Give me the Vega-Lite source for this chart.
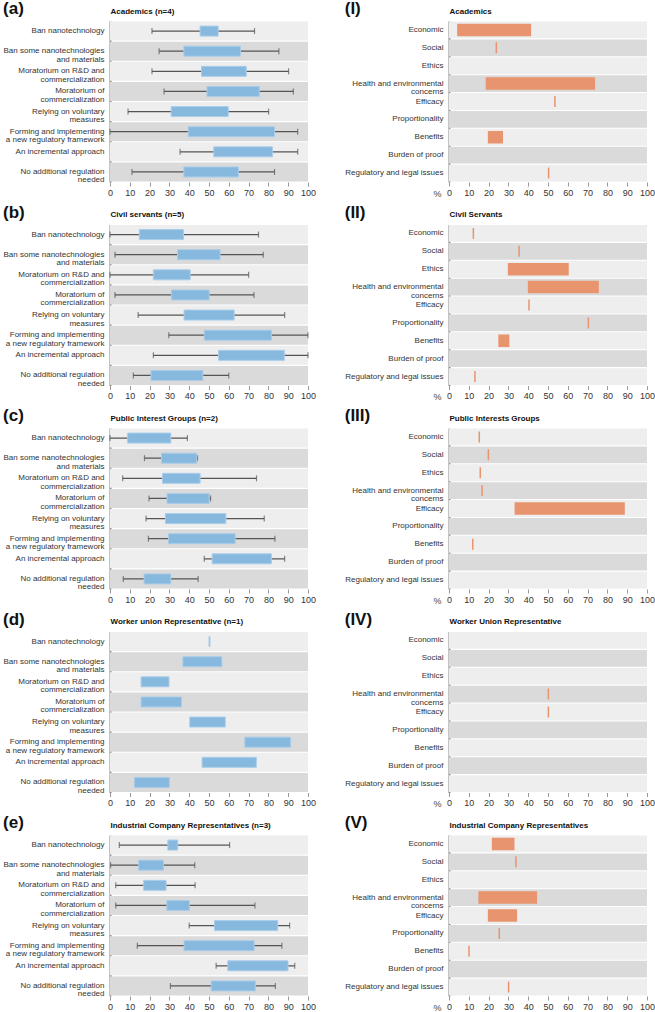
{
  "$schema": "https://vega.github.io/schema/vega-lite/v6.json",
  "background": "white",
  "padding": {"left": 3, "top": 0, "right": 0, "bottom": 0},
  "config": {
    "view": {"stroke": null},
    "font": "Liberation Sans",
    "concat": {"spacing": 5.5},
    "title": {"anchor": "start", "frame": "bounds", "fontSize": 17, "fontWeight": "bold", "color": "#111", "offset": -11, "font": "Liberation Sans"},
    "axisY": {"domainColor": "#888", "domainWidth": 2, "ticks": false, "labelFontSize": 8, "labelColor": "#333", "labelPadding": 6, "labelLineHeight": 8.5, "labelExpr": "split(datum.value, '\\n')", "titleAngle": 0, "titleAlign": "left", "titleBaseline": "middle", "titleX": 0, "titleY": -10, "titleFontSize": 8, "titleFontWeight": "bold", "titleColor": "#111", "labelFont": "Liberation Sans", "titleFont": "Liberation Sans"},
    "axisX": {"labelOverlap": false, "labelFlush": false, "domain": false, "grid": false, "tickColor": "#999", "tickSize": 4, "tickWidth": 1, "labelFontSize": 9, "labelColor": "#333", "labelPadding": 2, "titleFontSize": 9, "titleFontWeight": "normal", "titleColor": "#444", "labelFont": "Liberation Sans", "titleFont": "Liberation Sans"}
  },
  "datasets": {
    "box": [
      {"g": "a", "option": "Ban nanotechnology", "lo": 21.2, "q1": 45.5, "q3": 54.6, "hi": 73},
      {"g": "a", "option": "Ban some nanotechnologies\nand materials", "lo": 24.8, "q1": 37.3, "q3": 65.9, "hi": 85.3},
      {"g": "a", "option": "Moratorium on R&D and\ncommercialization", "lo": 21.2, "q1": 46.2, "q3": 68.8, "hi": 90.2},
      {"g": "a", "option": "Moratorium of\ncommercialization", "lo": 27.3, "q1": 49, "q3": 75.4, "hi": 92.6},
      {"g": "a", "option": "Relying on voluntary\nmeasures", "lo": 9.1, "q1": 30.9, "q3": 59.7, "hi": 80.1},
      {"g": "a", "option": "Forming and implementing\na new regulatory framework", "lo": 0, "q1": 39.5, "q3": 83.1, "hi": 94.8},
      {"g": "a", "option": "An incremental approach", "lo": 35.4, "q1": 52.4, "q3": 82, "hi": 94.8},
      {"g": "a", "option": "No additional regulation\nneeded", "lo": 11.1, "q1": 37.3, "q3": 64.8, "hi": 83.1},
      {"g": "b", "option": "Ban nanotechnology", "lo": 0, "q1": 14.8, "q3": 37.1, "hi": 75},
      {"g": "b", "option": "Ban some nanotechnologies\nand materials", "lo": 2.5, "q1": 34.1, "q3": 55.6, "hi": 77.4},
      {"g": "b", "option": "Moratorium on R&D and\ncommercialization", "lo": 0, "q1": 21.9, "q3": 40.5, "hi": 70},
      {"g": "b", "option": "Moratorium of\ncommercialization", "lo": 2.5, "q1": 31, "q3": 50.1, "hi": 72.7},
      {"g": "b", "option": "Relying on voluntary\nmeasures", "lo": 14.2, "q1": 37.4, "q3": 62.7, "hi": 88.2},
      {"g": "b", "option": "Forming and implementing\na new regulatory framework", "lo": 29.7, "q1": 47.6, "q3": 81.5, "hi": 100},
      {"g": "b", "option": "An incremental approach", "lo": 21.9, "q1": 54.8, "q3": 88, "hi": 100},
      {"g": "b", "option": "No additional regulation\nneeded", "lo": 11.8, "q1": 20.7, "q3": 46.9, "hi": 60},
      {"g": "c", "option": "Ban nanotechnology", "lo": 0, "q1": 8.9, "q3": 30.7, "hi": 39.1},
      {"g": "c", "option": "Ban some nanotechnologies\nand materials", "lo": 17.4, "q1": 26, "q3": 43.8, "hi": 44.2},
      {"g": "c", "option": "Moratorium on R&D and\ncommercialization", "lo": 6.4, "q1": 26.5, "q3": 45.5, "hi": 74},
      {"g": "c", "option": "Moratorium of\ncommercialization", "lo": 19.7, "q1": 28.8, "q3": 50.1, "hi": 50.8},
      {"g": "c", "option": "Relying on voluntary\nmeasures", "lo": 18.2, "q1": 28, "q3": 58.5, "hi": 77.9},
      {"g": "c", "option": "Forming and implementing\na new regulatory framework", "lo": 19.4, "q1": 29.5, "q3": 63.2, "hi": 83.3},
      {"g": "c", "option": "An incremental approach", "lo": 47.6, "q1": 51.6, "q3": 81.5, "hi": 88.2},
      {"g": "c", "option": "No additional regulation\nneeded", "lo": 6.7, "q1": 17.2, "q3": 30.7, "hi": 44.5},
      {"g": "d", "option": "Ban nanotechnology", "lo": null, "q1": 50, "q3": 50.5, "hi": null},
      {"g": "d", "option": "Ban some nanotechnologies\nand materials", "lo": null, "q1": 36.8, "q3": 56.5, "hi": null},
      {"g": "d", "option": "Moratorium on R&D and\ncommercialization", "lo": null, "q1": 15.7, "q3": 29.8, "hi": null},
      {"g": "d", "option": "Moratorium of\ncommercialization", "lo": null, "q1": 15.7, "q3": 36.1, "hi": null},
      {"g": "d", "option": "Relying on voluntary\nmeasures", "lo": null, "q1": 40.3, "q3": 58.2, "hi": null},
      {"g": "d", "option": "Forming and implementing\na new regulatory framework", "lo": null, "q1": 68.1, "q3": 91.2, "hi": null},
      {"g": "d", "option": "An incremental approach", "lo": null, "q1": 46.5, "q3": 73.9, "hi": null},
      {"g": "d", "option": "No additional regulation\nneeded", "lo": null, "q1": 12.3, "q3": 30, "hi": null},
      {"g": "e", "option": "Ban nanotechnology", "lo": 4.7, "q1": 29.2, "q3": 34.2, "hi": 60.4},
      {"g": "e", "option": "Ban some nanotechnologies\nand materials", "lo": 0.3, "q1": 14.5, "q3": 27, "hi": 42.8},
      {"g": "e", "option": "Moratorium on R&D and\ncommercialization", "lo": 2.9, "q1": 17, "q3": 28.3, "hi": 43},
      {"g": "e", "option": "Moratorium of\ncommercialization", "lo": 2.9, "q1": 28.7, "q3": 40.1, "hi": 73.2},
      {"g": "e", "option": "Relying on voluntary\nmeasures", "lo": 40, "q1": 52.8, "q3": 84.7, "hi": 90.7},
      {"g": "e", "option": "Forming and implementing\na new regulatory framework", "lo": 13.8, "q1": 37.4, "q3": 72.8, "hi": 86.8},
      {"g": "e", "option": "An incremental approach", "lo": 53.6, "q1": 59.5, "q3": 89.9, "hi": 93.3},
      {"g": "e", "option": "No additional regulation\nneeded", "lo": 30.5, "q1": 51.1, "q3": 73.4, "hi": 83.5}
    ],
    "reasons": [
      {"g": "I", "reason": "Economic", "lo": 4.5, "hi": 41.1},
      {"g": "I", "reason": "Social", "lo": 23.9, "hi": 23.9},
      {"g": "I", "reason": "Ethics", "lo": null, "hi": null},
      {"g": "I", "reason": "Health and environmental\nconcerns", "lo": 18.9, "hi": 73.4},
      {"g": "I", "reason": "Efficacy", "lo": 53.5, "hi": 53.5},
      {"g": "I", "reason": "Proportionality", "lo": null, "hi": null},
      {"g": "I", "reason": "Benefits", "lo": 20, "hi": 26.9},
      {"g": "I", "reason": "Burden of proof", "lo": null, "hi": null},
      {"g": "I", "reason": "Regulatory and legal issues", "lo": 50.3, "hi": 50.3},
      {"g": "II", "reason": "Economic", "lo": 12.3, "hi": 12.3},
      {"g": "II", "reason": "Social", "lo": 35.4, "hi": 35.4},
      {"g": "II", "reason": "Ethics", "lo": 30.1, "hi": 60.1},
      {"g": "II", "reason": "Health and environmental\nconcerns", "lo": 40.2, "hi": 75.3},
      {"g": "II", "reason": "Efficacy", "lo": 40.4, "hi": 40.4},
      {"g": "II", "reason": "Proportionality", "lo": 70.4, "hi": 70.4},
      {"g": "II", "reason": "Benefits", "lo": 25.3, "hi": 30.1},
      {"g": "II", "reason": "Burden of proof", "lo": null, "hi": null},
      {"g": "II", "reason": "Regulatory and legal issues", "lo": 13.1, "hi": 13.1},
      {"g": "III", "reason": "Economic", "lo": 15.3, "hi": 15.3},
      {"g": "III", "reason": "Social", "lo": 19.9, "hi": 19.9},
      {"g": "III", "reason": "Ethics", "lo": 15.8, "hi": 15.8},
      {"g": "III", "reason": "Health and environmental\nconcerns", "lo": 16.7, "hi": 16.7},
      {"g": "III", "reason": "Efficacy", "lo": 33.5, "hi": 88.4},
      {"g": "III", "reason": "Proportionality", "lo": null, "hi": null},
      {"g": "III", "reason": "Benefits", "lo": 12, "hi": 12},
      {"g": "III", "reason": "Burden of proof", "lo": null, "hi": null},
      {"g": "III", "reason": "Regulatory and legal issues", "lo": null, "hi": null},
      {"g": "IV", "reason": "Economic", "lo": null, "hi": null},
      {"g": "IV", "reason": "Social", "lo": null, "hi": null},
      {"g": "IV", "reason": "Ethics", "lo": null, "hi": null},
      {"g": "IV", "reason": "Health and environmental\nconcerns", "lo": 50.2, "hi": 50.2},
      {"g": "IV", "reason": "Efficacy", "lo": 50.2, "hi": 50.2},
      {"g": "IV", "reason": "Proportionality", "lo": null, "hi": null},
      {"g": "IV", "reason": "Benefits", "lo": null, "hi": null},
      {"g": "IV", "reason": "Burden of proof", "lo": null, "hi": null},
      {"g": "IV", "reason": "Regulatory and legal issues", "lo": null, "hi": null},
      {"g": "V", "reason": "Economic", "lo": 22, "hi": 32.7},
      {"g": "V", "reason": "Social", "lo": 33.8, "hi": 33.8},
      {"g": "V", "reason": "Ethics", "lo": null, "hi": null},
      {"g": "V", "reason": "Health and environmental\nconcerns", "lo": 15.2, "hi": 44.1},
      {"g": "V", "reason": "Efficacy", "lo": 20, "hi": 34},
      {"g": "V", "reason": "Proportionality", "lo": 25.4, "hi": 25.4},
      {"g": "V", "reason": "Benefits", "lo": 10.1, "hi": 10.1},
      {"g": "V", "reason": "Burden of proof", "lo": null, "hi": null},
      {"g": "V", "reason": "Regulatory and legal issues", "lo": 30.1, "hi": 30.1}
    ]
  },
  "vconcat": [
    {"hconcat": [
      {"width": 198, "height": 161, "title": "(a)", "data": {"name": "box"}, "transform": [{"filter": "datum.g == 'a'"}],
       "encoding": {"y": {"field": "option", "type": "nominal", "sort": null, "title": "Academics (n=4)", "scale": {"paddingInner": 0.06, "paddingOuter": 0.03}}},
       "layer": [
        {"transform": [{"window": [{"op": "row_number", "as": "rn"}]}], "mark": {"type": "bar"}, "encoding": {"x": {"datum": 0, "type": "quantitative", "scale": {"domain": [0, 100]}, "title": null, "axis": {"values": [0, 10, 20, 30, 40, 50, 60, 70, 80, 90, 100], "tickCount": 11, "labelOverlap": false}}, "x2": {"datum": 100}, "color": {"condition": {"test": "datum.rn % 2 == 0", "value": "#dadada"}, "value": "#eeeeee"}}},
        {"mark": {"type": "rule", "color": "#555", "strokeWidth": 1.2}, "encoding": {"x": {"field": "lo", "type": "quantitative", "title": null}, "x2": {"field": "hi"}}},
        {"mark": {"type": "tick", "orient": "vertical", "color": "#555", "size": 6, "thickness": 1.2}, "encoding": {"x": {"field": "lo", "type": "quantitative", "title": null}}},
        {"mark": {"type": "tick", "orient": "vertical", "color": "#555", "size": 6, "thickness": 1.2}, "encoding": {"x": {"field": "hi", "type": "quantitative", "title": null}}},
        {"mark": {"type": "bar", "size": 10, "color": "#87b8dd", "stroke": "#a9cdea", "strokeWidth": 1}, "encoding": {"x": {"field": "q1", "type": "quantitative", "title": null}, "x2": {"field": "q3"}}}
       ]},
      {"width": 198, "height": 161, "title": "(I)", "data": {"name": "reasons"}, "transform": [{"filter": "datum.g == 'I'"}],
       "encoding": {"y": {"field": "reason", "type": "nominal", "sort": null, "title": "Academics", "scale": {"paddingInner": 0.06, "paddingOuter": 0.03}}},
       "layer": [
        {"transform": [{"window": [{"op": "row_number", "as": "rn"}]}], "mark": {"type": "bar"}, "encoding": {"x": {"datum": 0, "type": "quantitative", "scale": {"domain": [0, 100]}, "title": "%", "axis": {"values": [0, 10, 20, 30, 40, 50, 60, 70, 80, 90, 100], "tickCount": 11, "labelOverlap": false, "titleX": -8, "titleY": 11, "titleAlign": "right", "titleBaseline": "middle", "titleAngle": 0}}, "x2": {"datum": 100}, "color": {"condition": {"test": "datum.rn % 2 == 0", "value": "#dadada"}, "value": "#eeeeee"}}},
        {"mark": {"type": "bar", "size": 11, "color": "#e8956f", "stroke": "#e8956f", "strokeWidth": 1.5}, "encoding": {"x": {"field": "lo", "type": "quantitative", "title": "%"}, "x2": {"field": "hi"}}}
       ]}
    ], "spacing": 28},
    {"hconcat": [
      {"width": 198, "height": 161, "title": "(b)", "data": {"name": "box"}, "transform": [{"filter": "datum.g == 'b'"}],
       "encoding": {"y": {"field": "option", "type": "nominal", "sort": null, "title": "Civil servants (n=5)", "scale": {"paddingInner": 0.06, "paddingOuter": 0.03}}},
       "layer": [
        {"transform": [{"window": [{"op": "row_number", "as": "rn"}]}], "mark": {"type": "bar"}, "encoding": {"x": {"datum": 0, "type": "quantitative", "scale": {"domain": [0, 100]}, "title": null, "axis": {"values": [0, 10, 20, 30, 40, 50, 60, 70, 80, 90, 100], "tickCount": 11, "labelOverlap": false}}, "x2": {"datum": 100}, "color": {"condition": {"test": "datum.rn % 2 == 0", "value": "#dadada"}, "value": "#eeeeee"}}},
        {"mark": {"type": "rule", "color": "#555", "strokeWidth": 1.2}, "encoding": {"x": {"field": "lo", "type": "quantitative", "title": null}, "x2": {"field": "hi"}}},
        {"mark": {"type": "tick", "orient": "vertical", "color": "#555", "size": 6, "thickness": 1.2}, "encoding": {"x": {"field": "lo", "type": "quantitative", "title": null}}},
        {"mark": {"type": "tick", "orient": "vertical", "color": "#555", "size": 6, "thickness": 1.2}, "encoding": {"x": {"field": "hi", "type": "quantitative", "title": null}}},
        {"mark": {"type": "bar", "size": 10, "color": "#87b8dd", "stroke": "#a9cdea", "strokeWidth": 1}, "encoding": {"x": {"field": "q1", "type": "quantitative", "title": null}, "x2": {"field": "q3"}}}
       ]},
      {"width": 198, "height": 161, "title": "(II)", "data": {"name": "reasons"}, "transform": [{"filter": "datum.g == 'II'"}],
       "encoding": {"y": {"field": "reason", "type": "nominal", "sort": null, "title": "Civil Servants", "scale": {"paddingInner": 0.06, "paddingOuter": 0.03}}},
       "layer": [
        {"transform": [{"window": [{"op": "row_number", "as": "rn"}]}], "mark": {"type": "bar"}, "encoding": {"x": {"datum": 0, "type": "quantitative", "scale": {"domain": [0, 100]}, "title": "%", "axis": {"values": [0, 10, 20, 30, 40, 50, 60, 70, 80, 90, 100], "tickCount": 11, "labelOverlap": false, "titleX": -8, "titleY": 11, "titleAlign": "right", "titleBaseline": "middle", "titleAngle": 0}}, "x2": {"datum": 100}, "color": {"condition": {"test": "datum.rn % 2 == 0", "value": "#dadada"}, "value": "#eeeeee"}}},
        {"mark": {"type": "bar", "size": 11, "color": "#e8956f", "stroke": "#e8956f", "strokeWidth": 1.5}, "encoding": {"x": {"field": "lo", "type": "quantitative", "title": "%"}, "x2": {"field": "hi"}}}
       ]}
    ], "spacing": 28},
    {"hconcat": [
      {"width": 198, "height": 161, "title": "(c)", "data": {"name": "box"}, "transform": [{"filter": "datum.g == 'c'"}],
       "encoding": {"y": {"field": "option", "type": "nominal", "sort": null, "title": "Public Interest Groups (n=2)", "scale": {"paddingInner": 0.06, "paddingOuter": 0.03}}},
       "layer": [
        {"transform": [{"window": [{"op": "row_number", "as": "rn"}]}], "mark": {"type": "bar"}, "encoding": {"x": {"datum": 0, "type": "quantitative", "scale": {"domain": [0, 100]}, "title": null, "axis": {"values": [0, 10, 20, 30, 40, 50, 60, 70, 80, 90, 100], "tickCount": 11, "labelOverlap": false}}, "x2": {"datum": 100}, "color": {"condition": {"test": "datum.rn % 2 == 0", "value": "#dadada"}, "value": "#eeeeee"}}},
        {"mark": {"type": "rule", "color": "#555", "strokeWidth": 1.2}, "encoding": {"x": {"field": "lo", "type": "quantitative", "title": null}, "x2": {"field": "hi"}}},
        {"mark": {"type": "tick", "orient": "vertical", "color": "#555", "size": 6, "thickness": 1.2}, "encoding": {"x": {"field": "lo", "type": "quantitative", "title": null}}},
        {"mark": {"type": "tick", "orient": "vertical", "color": "#555", "size": 6, "thickness": 1.2}, "encoding": {"x": {"field": "hi", "type": "quantitative", "title": null}}},
        {"mark": {"type": "bar", "size": 10, "color": "#87b8dd", "stroke": "#a9cdea", "strokeWidth": 1}, "encoding": {"x": {"field": "q1", "type": "quantitative", "title": null}, "x2": {"field": "q3"}}}
       ]},
      {"width": 198, "height": 161, "title": "(III)", "data": {"name": "reasons"}, "transform": [{"filter": "datum.g == 'III'"}],
       "encoding": {"y": {"field": "reason", "type": "nominal", "sort": null, "title": "Public Interests Groups", "scale": {"paddingInner": 0.06, "paddingOuter": 0.03}}},
       "layer": [
        {"transform": [{"window": [{"op": "row_number", "as": "rn"}]}], "mark": {"type": "bar"}, "encoding": {"x": {"datum": 0, "type": "quantitative", "scale": {"domain": [0, 100]}, "title": "%", "axis": {"values": [0, 10, 20, 30, 40, 50, 60, 70, 80, 90, 100], "tickCount": 11, "labelOverlap": false, "titleX": -8, "titleY": 11, "titleAlign": "right", "titleBaseline": "middle", "titleAngle": 0}}, "x2": {"datum": 100}, "color": {"condition": {"test": "datum.rn % 2 == 0", "value": "#dadada"}, "value": "#eeeeee"}}},
        {"mark": {"type": "bar", "size": 11, "color": "#e8956f", "stroke": "#e8956f", "strokeWidth": 1.5}, "encoding": {"x": {"field": "lo", "type": "quantitative", "title": "%"}, "x2": {"field": "hi"}}}
       ]}
    ], "spacing": 28},
    {"hconcat": [
      {"width": 198, "height": 161, "title": "(d)", "data": {"name": "box"}, "transform": [{"filter": "datum.g == 'd'"}],
       "encoding": {"y": {"field": "option", "type": "nominal", "sort": null, "title": "Worker union Representative (n=1)", "scale": {"paddingInner": 0.06, "paddingOuter": 0.03}}},
       "layer": [
        {"transform": [{"window": [{"op": "row_number", "as": "rn"}]}], "mark": {"type": "bar"}, "encoding": {"x": {"datum": 0, "type": "quantitative", "scale": {"domain": [0, 100]}, "title": null, "axis": {"values": [0, 10, 20, 30, 40, 50, 60, 70, 80, 90, 100], "tickCount": 11, "labelOverlap": false}}, "x2": {"datum": 100}, "color": {"condition": {"test": "datum.rn % 2 == 0", "value": "#dadada"}, "value": "#eeeeee"}}},
        {"mark": {"type": "bar", "size": 10, "color": "#87b8dd", "stroke": "#a9cdea", "strokeWidth": 1}, "encoding": {"x": {"field": "q1", "type": "quantitative", "title": null}, "x2": {"field": "q3"}}}
       ]},
      {"width": 198, "height": 161, "title": "(IV)", "data": {"name": "reasons"}, "transform": [{"filter": "datum.g == 'IV'"}],
       "encoding": {"y": {"field": "reason", "type": "nominal", "sort": null, "title": "Worker Union Representative", "scale": {"paddingInner": 0.06, "paddingOuter": 0.03}}},
       "layer": [
        {"transform": [{"window": [{"op": "row_number", "as": "rn"}]}], "mark": {"type": "bar"}, "encoding": {"x": {"datum": 0, "type": "quantitative", "scale": {"domain": [0, 100]}, "title": "%", "axis": {"values": [0, 10, 20, 30, 40, 50, 60, 70, 80, 90, 100], "tickCount": 11, "labelOverlap": false, "titleX": -8, "titleY": 11, "titleAlign": "right", "titleBaseline": "middle", "titleAngle": 0}}, "x2": {"datum": 100}, "color": {"condition": {"test": "datum.rn % 2 == 0", "value": "#dadada"}, "value": "#eeeeee"}}},
        {"mark": {"type": "bar", "size": 11, "color": "#e8956f", "stroke": "#e8956f", "strokeWidth": 1.5}, "encoding": {"x": {"field": "lo", "type": "quantitative", "title": "%"}, "x2": {"field": "hi"}}}
       ]}
    ], "spacing": 28},
    {"hconcat": [
      {"width": 198, "height": 161, "title": "(e)", "data": {"name": "box"}, "transform": [{"filter": "datum.g == 'e'"}],
       "encoding": {"y": {"field": "option", "type": "nominal", "sort": null, "title": "Industrial Company Representatives (n=3)", "scale": {"paddingInner": 0.06, "paddingOuter": 0.03}}},
       "layer": [
        {"transform": [{"window": [{"op": "row_number", "as": "rn"}]}], "mark": {"type": "bar"}, "encoding": {"x": {"datum": 0, "type": "quantitative", "scale": {"domain": [0, 100]}, "title": null, "axis": {"values": [0, 10, 20, 30, 40, 50, 60, 70, 80, 90, 100], "tickCount": 11, "labelOverlap": false}}, "x2": {"datum": 100}, "color": {"condition": {"test": "datum.rn % 2 == 0", "value": "#dadada"}, "value": "#eeeeee"}}},
        {"mark": {"type": "rule", "color": "#555", "strokeWidth": 1.2}, "encoding": {"x": {"field": "lo", "type": "quantitative", "title": null}, "x2": {"field": "hi"}}},
        {"mark": {"type": "tick", "orient": "vertical", "color": "#555", "size": 6, "thickness": 1.2}, "encoding": {"x": {"field": "lo", "type": "quantitative", "title": null}}},
        {"mark": {"type": "tick", "orient": "vertical", "color": "#555", "size": 6, "thickness": 1.2}, "encoding": {"x": {"field": "hi", "type": "quantitative", "title": null}}},
        {"mark": {"type": "bar", "size": 10, "color": "#87b8dd", "stroke": "#a9cdea", "strokeWidth": 1}, "encoding": {"x": {"field": "q1", "type": "quantitative", "title": null}, "x2": {"field": "q3"}}}
       ]},
      {"width": 198, "height": 161, "title": "(V)", "data": {"name": "reasons"}, "transform": [{"filter": "datum.g == 'V'"}],
       "encoding": {"y": {"field": "reason", "type": "nominal", "sort": null, "title": "Industrial Company Representatives", "scale": {"paddingInner": 0.06, "paddingOuter": 0.03}}},
       "layer": [
        {"transform": [{"window": [{"op": "row_number", "as": "rn"}]}], "mark": {"type": "bar"}, "encoding": {"x": {"datum": 0, "type": "quantitative", "scale": {"domain": [0, 100]}, "title": "%", "axis": {"values": [0, 10, 20, 30, 40, 50, 60, 70, 80, 90, 100], "tickCount": 11, "labelOverlap": false, "titleX": -8, "titleY": 11, "titleAlign": "right", "titleBaseline": "middle", "titleAngle": 0}}, "x2": {"datum": 100}, "color": {"condition": {"test": "datum.rn % 2 == 0", "value": "#dadada"}, "value": "#eeeeee"}}},
        {"mark": {"type": "bar", "size": 11, "color": "#e8956f", "stroke": "#e8956f", "strokeWidth": 1.5}, "encoding": {"x": {"field": "lo", "type": "quantitative", "title": "%"}, "x2": {"field": "hi"}}}
       ]}
    ], "spacing": 28}
  ]
}
